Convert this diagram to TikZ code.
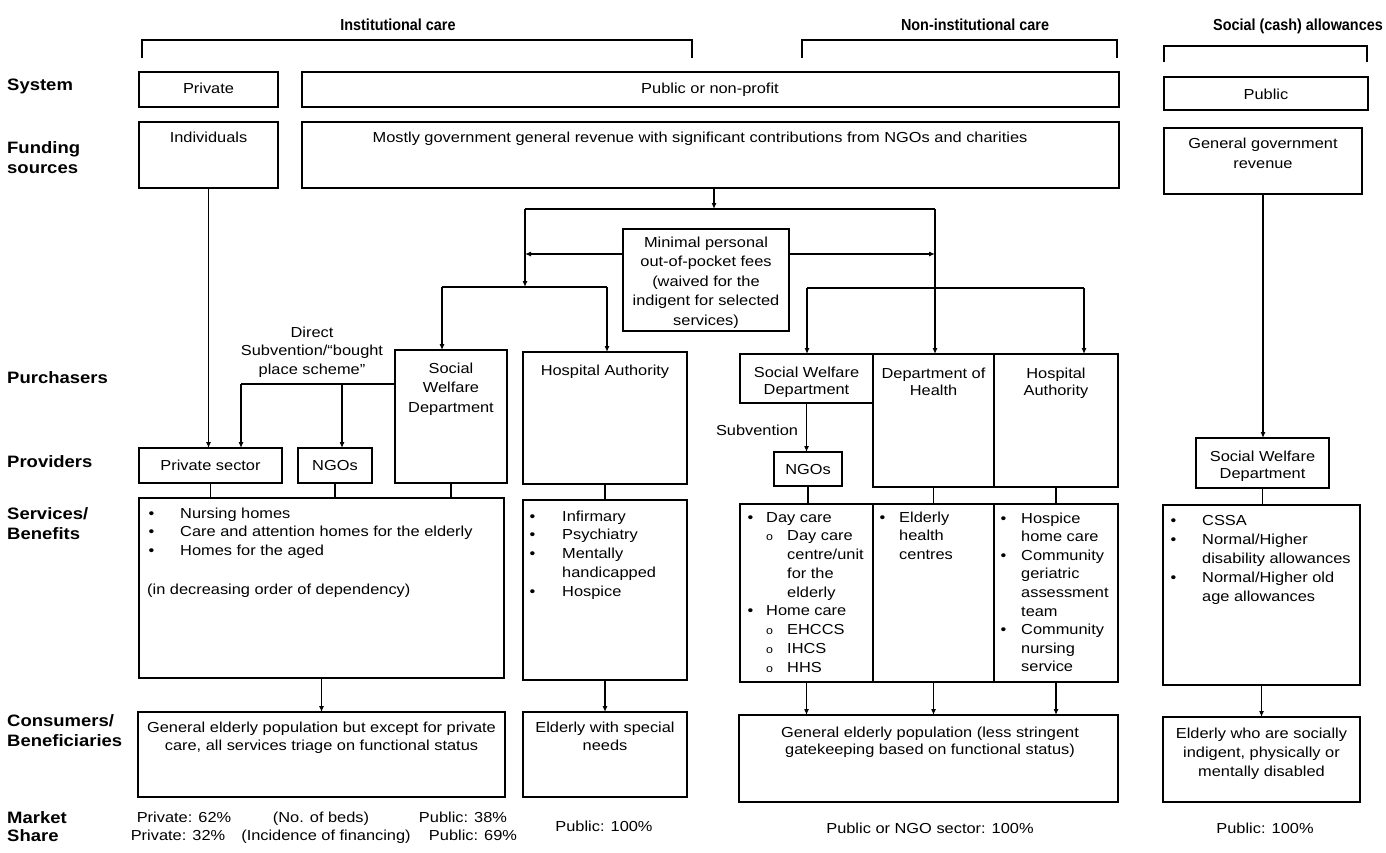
\documentclass[tikz,border=0pt]{standalone}
\usepackage{fontspec}
\setmainfont{Liberation Sans}[FakeStretch=1.13]
\newfontfamily\lblfont{Liberation Sans}[FakeStretch=1.12]
\newfontfamily\ttlfont{Liberation Sans}[FakeStretch=0.9]
\usetikzlibrary{arrows.meta}
% box given by its corners: name, x1, y1, x2, y2 (pixel-like units, y downwards)
\newcommand\mkbox[5]{\node[box, minimum width={(#4)-(#2)}, minimum height={(#5)-(#3)}] (#1) at ({((#2)+(#4))/2},{((#3)+(#5))/2}) {};}
\newcommand\cstack[1]{\begin{tabular}[t]{@{}c@{}}#1\end{tabular}}
\newcommand\lstack[1]{\begin{tabular}[t]{@{}l@{}}#1\end{tabular}}
\newcommand\blist[2]{\begin{tabular}[t]{@{}p{#1pt}@{}l@{}}#2\end{tabular}}
\newcommand\subbul{{\fontsize{11}{13}\selectfont o}}
\begin{document}
\begin{tikzpicture}[x=1pt,y=-1pt,
  box/.style={draw,line width=1.1pt,inner sep=0pt,outer sep=0pt},
  txt/.style={inner sep=0pt,anchor=base,font=\fontsize{14.5}{18.6}\selectfont},
  ltxt/.style={txt,anchor=base west},
  lbl/.style={inner sep=0pt,anchor=base west,font=\lblfont\bfseries\fontsize{16.5}{20}\selectfont},
  ttl/.style={inner sep=0pt,anchor=base,font=\ttlfont\bfseries\fontsize{16}{18}\selectfont},
  link/.style={line width=1.1pt},
  arr/.style={line width=1.1pt,-{Latex[length=6pt,width=5pt]}},
  brk/.style={line width=1.8pt}]
\fill[white] (0,0) rectangle (1386,852);
\useasboundingbox (0,0) rectangle (1386,852);

% column headings and brackets
\node[ttl] (tInst) at (398,30) {Institutional care};
\node[ttl] (tNon) at (975,30) {Non-institutional care};
\node[ttl,anchor=base east] (tSoc) at (1383,30) {Social (cash) allowances};
\draw[brk] (142,58) -- (142,40) -- (692,40) -- (692,58);
\draw[brk] (802,58) -- (802,40) -- (1117,40) -- (1117,58);
\draw[brk] (1164,62) -- (1164,46) -- (1367,46) -- (1367,62);

% row labels
\node[lbl] (lSys) at (7,90) {System};
\node[lbl] (lFund) at (7,153) {\lstack{Funding\\sources}};
\node[lbl] (lPur) at (7,383) {Purchasers};
\node[lbl] (lProv) at (7,467) {Providers};
\node[lbl] (lSvc) at (7,519) {\lstack{Services/\\Benefits}};
\node[lbl] (lCon) at (7,726) {\lstack{Consumers/\\Beneficiaries}};
\node[lbl] (lMkt) at (7,823) {\lstack{Market\\[-2pt]Share}};

% boxes
\mkbox{sPriv}{139}{72}{278}{107}
\mkbox{sPub}{302}{72}{1119}{107}
\mkbox{sSoc}{1164}{77}{1368}{110}
\mkbox{fInd}{139}{122}{278}{188}
\mkbox{fGov}{302}{122}{1119}{188}
\mkbox{fSoc}{1164}{128}{1362}{194}
\mkbox{fees}{623}{229}{789}{331}
\mkbox{iSWD}{395}{350}{507}{483}
\mkbox{iHA}{523}{352}{687}{484}
\mkbox{pPriv}{139}{448}{282}{483}
\mkbox{pNGO}{298}{448}{372}{483}
\mkbox{svI}{139}{498}{504}{678}
\mkbox{svH}{523}{500}{687}{680}
\mkbox{cI}{138}{712}{505}{797}
\mkbox{cH}{523}{712}{687}{797}
\mkbox{nSWD}{740}{354}{873}{403}
\mkbox{nDoH}{873}{354}{994}{487}
\mkbox{nHA}{994}{354}{1118}{487}
\mkbox{nNGO}{774}{452}{842}{486}
\mkbox{nS1}{740}{504}{873}{682}
\mkbox{nS2}{873}{504}{994}{682}
\mkbox{nS3}{994}{504}{1118}{682}
\mkbox{nCon}{739}{715}{1118}{802}
\mkbox{zSWD}{1196}{438}{1329}{488}
\mkbox{zSvc}{1163}{505}{1360}{685}
\mkbox{zCon}{1163}{717}{1360}{802}

% box texts
\node[txt] (sPrivT) at (208.5,93) {Private};
\node[txt] (sPubT) at (710,93) {Public or non-profit};
\node[txt] (sSocT) at (1266,99) {Public};
\node[txt] (fIndT) at (208.5,142) {Individuals};
\node[txt] (fGovT) at (700,142) {Mostly government general revenue with significant contributions from NGOs and charities};
\node[txt,font=\fontsize{14.5}{20}\selectfont] (fSocT) at (1263,148) {\cstack{General government\\revenue}};
\node[txt,font=\fontsize{14.5}{19.5}\selectfont] (feesT) at (706,247) {\cstack{Minimal personal\\out-of-pocket fees\\(waived for the\\indigent for selected\\services)}};
\node[txt,font=\fontsize{14.5}{18.5}\selectfont] (dsT) at (312,337) {\cstack{Direct\\Subvention/“bought\\place scheme”}};
\node[txt,font=\fontsize{14.5}{19.5}\selectfont] (iSWDT) at (451,373) {\cstack{Social\\Welfare\\Department}};
\node[txt] (iHAT) at (605,375) {Hospital Authority};
\node[txt] (pPrivT) at (210.5,470) {Private sector};
\node[txt] (pNGOT) at (335,470) {NGOs};
\node[ltxt] (svIT) at (148.5,518) {\blist{31.5}{•&Nursing homes\\•&Care and attention homes for the elderly\\•&Homes for the aged}};
\node[ltxt] (svINote) at (147,594) {(in decreasing order of dependency)};
\node[ltxt,font=\fontsize{14.5}{18.75}\selectfont] (svHT) at (529.5,521) {\blist{32.5}{•&Infirmary\\•&Psychiatry\\•&Mentally\\&handicapped\\•&Hospice}};
\node[txt] (cIT) at (321.5,732) {\cstack{General elderly population but except for private\\care, all services triage on functional status}};
\node[txt] (cHT) at (605,732) {\cstack{Elderly with special\\needs}};

\node[txt,font=\fontsize{14.5}{17.5}\selectfont] (nSWDT) at (806.5,377) {\cstack{Social Welfare\\Department}};
\node[txt,font=\fontsize{14.5}{17.5}\selectfont] (nDoHT) at (933.5,378) {\cstack{Department of\\Health}};
\node[txt,font=\fontsize{14.5}{17.5}\selectfont] (nHAT) at (1056,378) {\cstack{Hospital\\Authority}};
\node[txt] (subvT) at (757,435) {Subvention};
\node[txt] (nNGOT) at (808,474) {NGOs};
\node[ltxt,font=\fontsize{14.5}{18.75}\selectfont] (nS1T) at (747.5,522) {\begin{tabular}[t]{@{}p{18.5pt}@{}p{21pt}@{}l@{}}•&\multicolumn{2}{@{}l@{}}{Day care}\\&\subbul&Day care\\&&centre/unit\\&&for the\\&&elderly\\•&\multicolumn{2}{@{}l@{}}{Home care}\\&\subbul&EHCCS\\&\subbul&IHCS\\&\subbul&HHS\end{tabular}};
\node[ltxt,font=\fontsize{14.5}{18.75}\selectfont] (nS2T) at (879.5,522) {\blist{19.5}{•&Elderly\\&health\\&centres}};
\node[ltxt,font=\fontsize{14.5}{18.6}\selectfont] (nS3T) at (1000.5,523) {\blist{20.5}{•&Hospice\\&home care\\•&Community\\&geriatric\\&assessment\\&team\\•&Community\\&nursing\\&service}};
\node[txt,font=\fontsize{14.5}{17}\selectfont] (nConT) at (930,737) {\cstack{General elderly population (less stringent\\gatekeeping based on functional status)}};

\node[txt,font=\fontsize{14.5}{17.5}\selectfont] (zSWDT) at (1262.5,461) {\cstack{Social Welfare\\Department}};
\node[ltxt,font=\fontsize{14.5}{19}\selectfont] (zSvcT) at (1170.5,525) {\blist{31.5}{•&CSSA\\•&Normal/Higher\\&disability allowances\\•&Normal/Higher old\\&age allowances}};
\node[txt,font=\fontsize{14.5}{19}\selectfont] (zConT) at (1261.5,738) {\cstack{Elderly who are socially\\indigent, physically or\\mentally disabled}};

% market shares
\node[txt] (m1) at (184,822) {Private: 62\%};
\node[txt] (m2) at (321,822) {(No. of beds)};
\node[txt] (m3) at (463,822) {Public: 38\%};
\node[txt] (m4) at (178,840) {Private: 32\%};
\node[txt] (m5) at (326,840) {(Incidence of financing)};
\node[txt] (m6) at (473,840) {Public: 69\%};
\node[txt] (m7) at (604,831) {Public: 100\%};
\node[txt] (m8) at (930,833) {Public or NGO sector: 100\%};
\node[txt] (m9) at (1265,833) {Public: 100\%};

% funding flows
\draw[arr] (fInd.south) -- (fInd.south |- pPriv.north);
\coordinate (jTop) at (714,209);
\coordinate (jL) at (525,209);
\coordinate (jR) at (935,209);
\draw[arr] (fGov.south -| jTop) -- (jTop);
\draw[link] (jL) -- (jR);
\coordinate (dL) at (525,287);
\coordinate (dL1) at (442,287);
\coordinate (dL2) at (607,287);
\draw[arr] (jL) -- (dL);
\draw[link] (dL1) -- (dL2);
\draw[arr] (dL1) -- (dL1 |- iSWD.north);
\draw[arr] (dL2) -- (dL2 |- iHA.north);
\coordinate (feesL) at ([yshift=26pt]fees.west);
\coordinate (feesR) at ([yshift=26pt]fees.east);
\draw[arr] (feesL) -- (feesL -| jL);
\draw[arr] (feesR) -- (feesR -| jR);
\draw[arr] (jR) -- (jR |- nDoH.north);
\coordinate (dR1) at (807,288);
\coordinate (dR2) at (1084,288);
\draw[link] (dR1) -- (dR2);
\draw[arr] (dR1) -- (dR1 |- nSWD.north);
\draw[arr] (dR2) -- (dR2 |- nHA.north);

% institutional purchasers to providers and services
\coordinate (sv1) at (241,384);
\coordinate (sv2) at (342,384);
\draw[link] (iSWD.west |- sv1) -- (sv1);
\draw[arr] (sv1) -- (sv1 |- pPriv.north);
\draw[arr] (sv2) -- (sv2 |- pNGO.north);
\draw[link] (pPriv.south) -- (pPriv.south |- svI.north);
\draw[link] (pNGO.south) -- (pNGO.south |- svI.north);
\draw[link] (iSWD.south) -- (iSWD.south |- svI.north);
\draw[link] (iHA.south) -- (iHA.south |- svH.north);
\draw[arr] (svI.south) -- (svI.south |- cI.north);
\draw[arr] (svH.south) -- (svH.south |- cH.north);

% non-institutional chain
\draw[arr] (nSWD.south) -- (nSWD.south |- nNGO.north);
\draw[link] (nNGO.south) -- (nNGO.south |- nS1.north);
\draw[link] (nDoH.south) -- (nDoH.south |- nS2.north);
\draw[link] (nHA.south) -- (nHA.south |- nS3.north);
\draw[arr] (nS1.south) -- (nS1.south |- nCon.north);
\draw[arr] (nS2.south) -- (nS2.south |- nCon.north);
\draw[arr] (nS3.south) -- (nS3.south |- nCon.north);

% social allowances chain
\draw[arr] (fSoc.south) -- (fSoc.south |- zSWD.north);
\draw[link] (zSWD.south) -- (zSWD.south |- zSvc.north);
\draw[arr] (zSvc.south) -- (zSvc.south |- zCon.north);
\end{tikzpicture}
\end{document}
